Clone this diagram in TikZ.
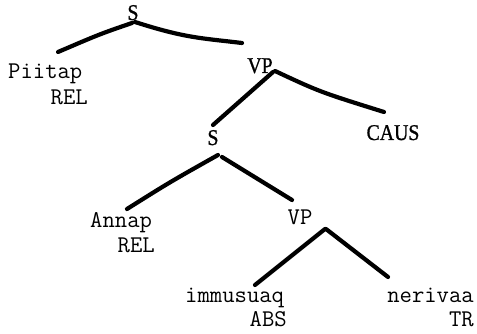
\documentclass[tikz,border=0pt]{standalone}
\usepackage{fontspec}
\usepackage{graphicx}
\setmainfont{Liberation Serif}
\tikzset{
  cat/.style={font=\fontsize{22.5}{24}\selectfont\rmfamily\addfontfeature{FakeBold=1}, inner sep=0pt, anchor=base},
  word/.style={font=\fontsize{24}{26}\selectfont\ttfamily\addfontfeature{FakeBold=2}, inner sep=0pt},
  branch/.style={line width=4.2pt, line cap=round, line join=round}
}
\newcommand{\cnd}[1]{\scalebox{0.88}[1]{#1}}
\begin{document}
\begin{tikzpicture}[x=1pt,y=-1pt]
\useasboundingbox (0,0) rectangle (477,334);
% category labels
\node[cat] (S1) at (133,20) {\cnd{S}};
\node[cat] (VP1) at (260,73) {\cnd{VP}};
\node[cat] (CAUS) at (393,140) {\cnd{CAUS}};
\node[cat] (S2) at (213,145) {\cnd{S}};
\node[word, anchor=base] (VP2) at (300,225) {VP};
% words
\node[word, anchor=base west] (Piitap) at (8,79) {Piitap};
\node[word, anchor=base east] (REL1) at (88,105) {REL};
\node[word, anchor=base west] (Annap) at (90,227) {Annap};
\node[word, anchor=base east] (REL2) at (155,252) {REL};
\node[word, anchor=base west] (immusuaq) at (185,302) {immusuaq};
\node[word, anchor=base east] (ABS) at (287,326) {ABS};
\node[word, anchor=base east] (nerivaa) at (474,302) {nerivaa};
\node[word, anchor=base east] (TR) at (474,326) {TR};
% branch ends
\coordinate (s1a) at (132,23);
\coordinate (s1b) at (135,22);
\coordinate (pa) at (58,52);
\coordinate (vpa) at (242,43);
\coordinate (vp1a) at (273,72);
\coordinate (vp1b) at (275,71);
\coordinate (s2t) at (213,125);
\coordinate (caust) at (384,112);
\coordinate (s2a) at (218,155);
\coordinate (s2b) at (222,157);
\coordinate (annt) at (127,209);
\coordinate (vp2t) at (292,200);
\coordinate (vp2a) at (325,229);
\coordinate (vp2b) at (326,229);
\coordinate (immt) at (255,285);
\coordinate (nert) at (388,277);
% branches
\draw[branch] (s1a) .. controls (100,34) .. (pa);
\draw[branch] (s1b) .. controls (185,38) and (200,38) .. (vpa);
\draw[branch] (vp1a) -- (s2t);
\draw[branch] (vp1b) .. controls (320,92) .. (caust);
\draw[branch] (s2a) .. controls (170,182) .. (annt);
\draw[branch] (s2b) -- (vp2t);
\draw[branch] (vp2a) -- (immt);
\draw[branch] (vp2b) -- (nert);
\end{tikzpicture}
\end{document}
